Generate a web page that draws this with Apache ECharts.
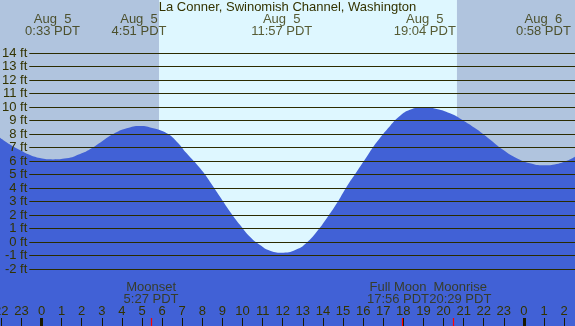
<!DOCTYPE html>
<html>
<head>
<meta charset="utf-8">
<script src="https://cdn.jsdelivr.net/npm/echarts@6/dist/echarts.min.js"></script>
<style>
  html, body { margin: 0; padding: 0; overflow: hidden; }
  #chart { width: 575px; height: 326px; }
</style>
</head>
<body>
<div id="chart"></div>
<script>
// tide curve (hours from midnight Aug 5, feet)
var tideHours = [-2.07, -1.57, -1.07, -0.57, -0.08, 0.57, 1.25, 1.92, 2.41, 2.91, 3.57, 4.24, 4.9, 5.56,
  6.23, 6.73, 7.22, 7.89, 8.38, 8.88, 9.38, 9.88, 10.37, 10.87, 11.37, 12.03, 12.7, 13.19, 13.69,
  14.19, 14.69, 15.18, 15.68, 16.18, 16.68, 17.34, 17.84, 18.33, 19.0, 19.66, 20.32, 20.99, 21.65,
  22.31, 22.98, 23.64, 24.3, 24.97, 25.63, 26.13, 26.54];
var tideFeet = [7.73, 7.22, 6.81, 6.44, 6.22, 6.12, 6.2, 6.52, 6.87, 7.36, 8.0, 8.42, 8.59, 8.42,
  8.05, 7.43, 6.57, 5.46, 4.47, 3.36, 2.25, 1.26, 0.39, -0.22, -0.64, -0.79, -0.54, -0.05, 0.76,
  1.76, 2.87, 4.1, 5.21, 6.32, 7.4, 8.6, 9.35, 9.8, 9.98, 9.85, 9.53, 8.99, 8.35,
  7.6, 6.81, 6.2, 5.83, 5.68, 5.78, 6.02, 6.32];

// high / low tide labels
var extremeDays = ['Aug  5', 'Aug  5', 'Aug  5', 'Aug  5', 'Aug  6'];
var extremeTimes = ['0:33', '4:51', '11:57', '19:04', '0:58'];
var extremeDayOffset = [0, 0, 0, 0, 24];

// moon events
var moonNames = ['Moonset', 'Full Moon', 'Moonrise'];
var moonTimes = ['5:27', '17:56', '20:29'];
var moonShift = [0, -4, 7];

// sun
var sunrise = '5:51';
var sunset = '20:40';

var hourTicks = [-2, -1, 0, 1, 2, 3, 4, 5, 6, 7, 8, 9, 10, 11, 12, 13, 14, 15, 16, 17, 18, 19, 20,
  21, 22, 23, 24, 25, 26];
var footLevels = [14, 13, 12, 11, 10, 9, 8, 7, 6, 5, 4, 3, 2, 1, 0, -1, -2];
var midnights = [0, 24];

var xMin = -2.065, xMax = 26.54;
var yMin = -6.222, yMax = 17.926;

var nightColor = '#b0c4de';
var dayColor = '#def7ff';
var waterColor = '#4161d6';
var inkColor = '#333300';
var lineColor = '#2b2b00';
var font = 'Liberation Sans';

function toHour(t) {
  var p = t.split(':');
  return Number(p[0]) + Number(p[1]) / 60;
}

var chart = echarts.init(document.getElementById('chart'));

var tideData = tideHours.map(function (h, i) { return [h, tideFeet[i]]; });

var lineStart = -0.607;
var levelLines = footLevels.map(function (v) {
  return [
    { name: v + ' ft', coord: [lineStart, v] },
    { coord: [xMax, v] }
  ];
});

var tickTop = (242 - 318) / 13.5;
var midnightTicks = midnights.map(function (h) {
  return [{ coord: [h, yMin], lineStyle: { color: '#1a1a00', width: 3, type: 'solid' } }, { coord: [h, tickTop] }];
});
var moonTicks = moonTimes.map(function (t) {
  var h = toHour(t);
  return [{ coord: [h, yMin], lineStyle: { color: '#ff0000', width: 1.2, type: 'solid' } }, { coord: [h, tickTop] }];
});

var extremeLabels = extremeTimes.map(function (t, i) {
  return {
    name: extremeDays[i] + '\n' + t + ' PDT',
    value: [toHour(t) + extremeDayOffset[i], (242 - 25.5) / 13.5]
  };
});
var moonLabels = moonTimes.map(function (t, i) {
  return {
    name: moonNames[i] + '\n' + t + ' PDT',
    value: [toHour(t), (242 - 293) / 13.5],
    label: { offset: [moonShift[i], 0] }
  };
});

var option = {
  animation: false,
  title: {
    text: 'La Conner, Swinomish Channel, Washington',
    left: 'center',
    top: 1,
    padding: 0,
    textStyle: { fontFamily: font, fontSize: 13, fontWeight: 'normal', color: inkColor }
  },
  grid: { left: 0, right: 0, top: 0, bottom: 0, containLabel: false, outerBoundsMode: 'none' },
  xAxis: {
    type: 'value',
    min: xMin,
    max: xMax,
    z: 5,
    axisLine: { show: false, onZero: false },
    splitLine: { show: false },
    axisTick: {
      inside: true,
      length: 8,
      customValues: hourTicks,
      lineStyle: { color: '#1a1a00', width: 1 }
    },
    axisLabel: {
      inside: true,
      margin: 8,
      customValues: hourTicks,
      fontFamily: font,
      fontSize: 13,
      color: inkColor,
      formatter: function (v) { return String(((v % 24) + 24) % 24); }
    }
  },
  yAxis: {
    type: 'value',
    min: yMin,
    max: yMax,
    show: false,
    splitLine: { show: false }
  },
  series: [
    {
      type: 'line',
      data: [],
      z: 1,
      silent: true,
      markArea: {
        silent: true,
        data: [
          [{ xAxis: xMin, itemStyle: { color: nightColor } }, { xAxis: toHour(sunrise) }],
          [{ xAxis: toHour(sunrise), itemStyle: { color: dayColor } }, { xAxis: toHour(sunset) }],
          [{ xAxis: toHour(sunset), itemStyle: { color: nightColor } }, { xAxis: xMax }]
        ]
      }
    },
    {
      type: 'line',
      data: tideData,
      z: 2,
      smooth: true,
      symbol: 'none',
      silent: true,
      lineStyle: { width: 0 },
      areaStyle: { color: waterColor, opacity: 1, origin: 'start' }
    },
    {
      type: 'line',
      data: [],
      z: 3,
      silent: true,
      markLine: {
        silent: true,
        symbol: 'none',
        animation: false,
        lineStyle: { color: lineColor, width: 1.2, type: 'solid' },
        label: {
          show: true,
          position: 'start',
          distance: 2,
          formatter: '{b}',
          fontFamily: font,
          fontSize: 13,
          color: inkColor
        },
        data: levelLines
      }
    },
    {
      type: 'line',
      data: [],
      z: 4,
      silent: true,
      markLine: {
        silent: true,
        symbol: 'none',
        animation: false,
        label: { show: false },
        data: midnightTicks.concat(moonTicks)
      }
    },
    {
      type: 'scatter',
      z: 6,
      silent: true,
      symbolSize: 0,
      label: {
        show: true,
        position: 'inside',
        formatter: '{b}',
        fontFamily: font,
        fontSize: 13,
        lineHeight: 12,
        color: inkColor
      },
      data: extremeLabels.concat(moonLabels)
    }
  ]
};

chart.setOption(option);
</script>
</body>
</html>
